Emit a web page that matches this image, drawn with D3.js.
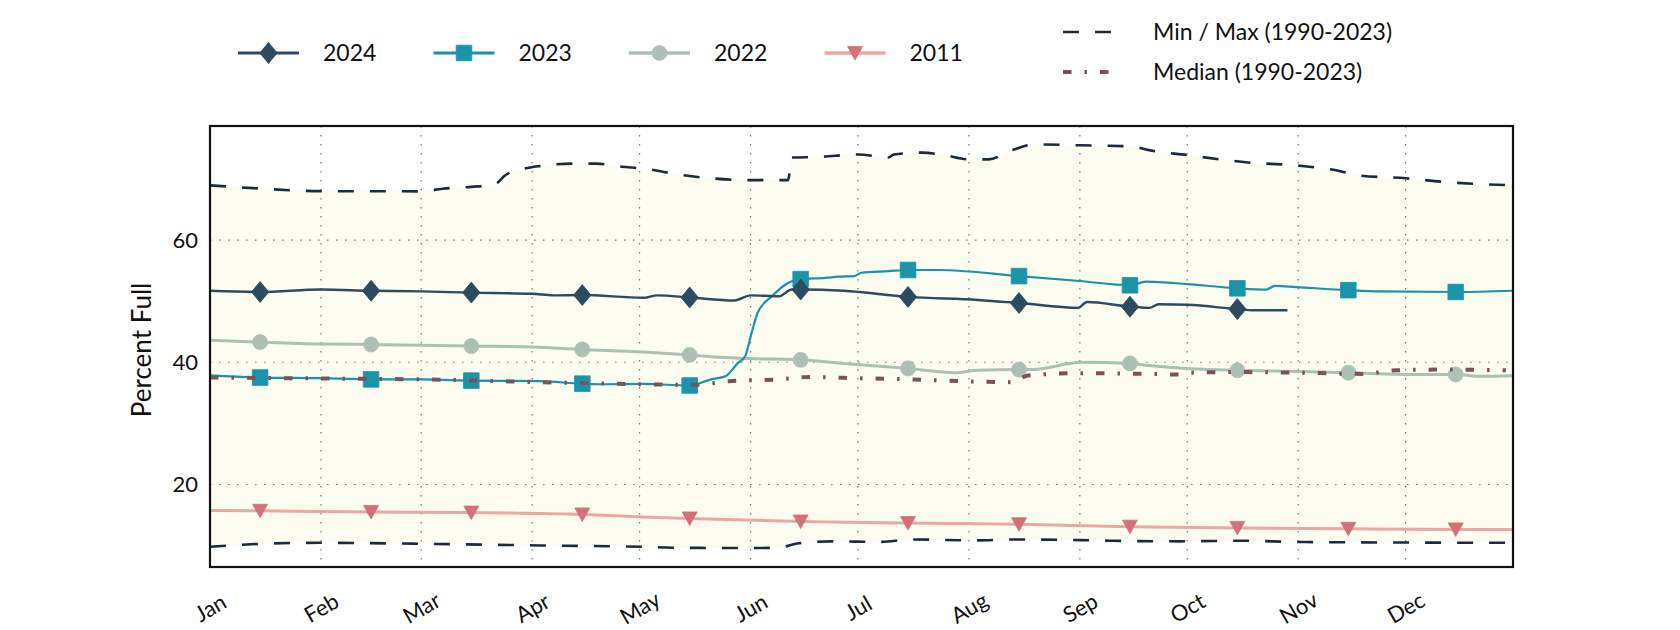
<!DOCTYPE html>
<html>
<head>
<meta charset="utf-8">
<script src="https://cdn.jsdelivr.net/npm/d3@7"></script>
<style>
  html, body { margin: 0; padding: 0; background: #fff; }
  svg { display: block; }
  text { font-family: Lato, "Noto Sans", sans-serif; fill: #111; }
</style>
</head>
<body>
<svg id="chart" width="1680" height="630"></svg>
<script>
// ---------------- DATA (day of year, percent full) ----------------
const monthLabels = ["Jan","Feb","Mar","Apr","May","Jun","Jul","Aug","Sep","Oct","Nov","Dec"];
const monthStarts = [0,31,59,90,120,151,181,212,243,273,304,334];
const markerDays  = [14,45,73,104,134,165,195,226,257,287,318,348];
const yTicks = [20,40,60];

const maxRange = [[0,68.95],[12,68.5],[31,68.0],[59,67.97],[65,68.4],[73,68.7],[79.5,69.1],[82.5,70.6],[88,71.7],[92,72.1],[101,72.5],[108,72.5],[115,72.0],[121,71.7],[131,70.7],[140,70.1],[150,69.8],[161.5,69.8],[162.5,73.5],[170,73.6],[181,74.0],[189.5,73.5],[191,74.0],[199,74.3],[205,73.9],[212,73.2],[217.5,73.2],[224,74.7],[230.5,75.65],[243,75.5],[258,75.3],[261.5,74.8],[273,73.9],[290,72.7],[303.5,72.2],[315.5,71.3],[320.5,70.6],[334,70.1],[345,69.5],[364,68.95]];
const minRange = [[0,9.8],[17,10.35],[31,10.46],[59,10.3],[92,10.03],[121,9.8],[131,9.65],[150,9.6],[159,9.65],[164,10.35],[173.5,10.7],[187,10.6],[196,11.0],[214.5,10.85],[224,11.0],[243.5,10.9],[252,10.8],[271,10.7],[288,10.8],[303.5,10.6],[336,10.5],[364,10.46]];
const median = [[0,37.5],[31,37.35],[59,37.2],[92,36.75],[121,36.4],[135.5,36.3],[145,36.9],[159,37.2],[168,37.6],[177,37.45],[196,37.2],[210,36.9],[224,36.75],[228.5,37.85],[242.5,38.2],[262,38.1],[271,38.0],[274,38.3],[285,38.4],[303.5,38.3],[322,38.1],[331.5,38.7],[345,38.8],[362,38.7]];
const s2024 = [[0,51.7],[14,51.5],[31,51.9],[45,51.7],[59,51.6],[73,51.4],[90,51.2],[96,50.95],[104,51.0],[121,50.55],[125,50.95],[134,50.6],[146.5,50.1],[151,50.95],[159,50.8],[162.5,51.9],[165,51.9],[177,51.7],[195,50.7],[214.5,50.2],[226,49.7],[242.5,48.9],[245,49.85],[257,49.1],[262.5,48.9],[265,49.5],[273,49.4],[287,48.7],[291.5,48.5],[301,48.5]];
const s2023 = [[0,37.85],[14,37.5],[31,37.4],[45,37.2],[59,37.2],[73,37.0],[92,36.9],[104,36.5],[110,36.4],[121,36.45],[134,36.2],[140,37.2],[144,37.7],[147.5,39.9],[149.5,41.0],[151.3,44.8],[153,48.1],[157,50.8],[160.5,52.6],[165,53.6],[172,53.8],[175.5,54.0],[180,54.1],[182,54.65],[189.5,54.9],[195,55.1],[203.5,55.1],[226,54.1],[243,53.3],[257,52.6],[261.5,53.2],[273,52.8],[287,52.1],[295,51.9],[297.5,52.5],[303.5,52.3],[318,51.8],[327,51.6],[348,51.5],[364,51.7]];
const s2022 = [[0,43.6],[14,43.3],[31,43.0],[45,42.9],[59,42.8],[73,42.65],[90,42.5],[104,42.1],[121,41.7],[134,41.2],[140,40.9],[151,40.6],[165,40.4],[177,39.8],[195,39.0],[208,38.3],[214.5,38.7],[226,38.8],[229.5,38.8],[243.5,40.0],[257,39.8],[261.5,39.5],[275.5,38.9],[287,38.7],[303.5,38.5],[318,38.3],[336,38.0],[348,38.0],[355,37.7],[364,37.8]];
const s2011 = [[0,15.75],[14,15.7],[45,15.5],[73,15.4],[104,15.1],[121,14.7],[134,14.45],[165,13.95],[195,13.7],[226,13.5],[243.5,13.25],[257,13.1],[287,12.9],[318,12.75],[348,12.65],[364,12.65]];

const seriesNames = ["2024","2023","2022","2011"];
const seriesData  = [s2024, s2023, s2022, s2011];

// ---------------- STYLES ----------------
const styles = {
  "2024": {line:"#2c4a60", mark:"#2c4a60", width:2.4, shape:"diamond"},
  "2023": {line:"#1a94a8", mark:"#1a94a8", width:2.2, shape:"square"},
  "2022": {line:"#adc0b4", mark:"#adc0b4", width:3,   shape:"circle"},
  "2011": {line:"#e8a8a6", mark:"#d4707a", width:3,   shape:"triangle"}
};
const rangeColor = "#1b2b3f", medianColor = "#7b5259", fillColor = "#fcfcf1";

const svg = d3.select("#chart");
const L = 210, R = 1513, T = 126, B = 567;
const x = d3.scaleLinear().domain([0,364]).range([L,R]);
const y = d3.scaleLinear().domain([6.5,78.66]).range([B,T]);

const line = d3.line().x(d=>x(d[0])).y(d=>y(d[1])).curve(d3.curveMonotoneX);

// fill between min and max
const upper = line(maxRange);
const lower = line(minRange.slice().reverse());
svg.append("path").attr("d", upper + lower.replace(/^M/,"L") + "Z")
  .attr("fill", fillColor).attr("stroke","none");

// grid
const grid = svg.append("g");
grid.selectAll(".vg").data(monthStarts.slice(1)).join("line")
  .attr("x1",d=>x(d)).attr("x2",d=>x(d)).attr("y1",T).attr("y2",B)
  .attr("stroke","#777").attr("stroke-width",1.2).attr("stroke-dasharray","1.5,7.5");
grid.selectAll(".hg").data(yTicks).join("line")
  .attr("x1",L).attr("x2",R).attr("y1",d=>y(d)).attr("y2",d=>y(d))
  .attr("stroke","#777").attr("stroke-width",1.2).attr("stroke-dasharray","1.5,7.5");

function markerPath(shape) {
  if (shape === "diamond") return "M0,-10.5L8.7,0L0,10.5L-8.7,0Z";
  if (shape === "square") return "M-7.8,-7.8H7.8V7.8H-7.8Z";
  if (shape === "circle") return d3.symbol().type(d3.symbolCircle).size(Math.PI*7.5*7.5)();
  return "M-7.5,-6.5L7.5,-6.5L0,7Z";
}

const plot = svg.append("g");
// draw order: 2011, 2022, 2023, 2024
[3,2,1,0].forEach(i => {
  const name = seriesNames[i], st = styles[name], data = seriesData[i];
  plot.append("path").attr("d", line(data)).attr("fill","none")
    .attr("stroke", st.line).attr("stroke-width", st.width).attr("stroke-linejoin","round");
  plot.selectAll(".m"+name).data(data.filter(d => markerDays.includes(d[0]))).join("path")
    .attr("d", markerPath(st.shape))
    .attr("transform", d => `translate(${x(d[0])},${y(d[1])})`)
    .attr("fill", st.mark).attr("stroke", st.mark).attr("stroke-width", 0.8)
    .attr("stroke-linejoin","round");
});

// min / max
[maxRange, minRange].forEach(d => {
  plot.append("path").attr("d", line(d)).attr("fill","none")
    .attr("stroke", rangeColor).attr("stroke-width", 2.6).attr("stroke-dasharray","16,16");
});
// median
plot.append("path").attr("d", line(median)).attr("fill","none")
  .attr("stroke", medianColor).attr("stroke-width", 4).attr("stroke-dasharray","8.5,13,2.5,13");

// frame
svg.append("rect").attr("x",L).attr("y",T).attr("width",R-L).attr("height",B-T)
  .attr("fill","none").attr("stroke","#111").attr("stroke-width",2.2);

// axes
const xAxis = svg.append("g").attr("transform",`translate(0,${B})`)
  .call(d3.axisBottom(x).tickValues(monthStarts).tickFormat((d,i)=>monthLabels[i]).tickSize(0));
xAxis.select(".domain").remove();
xAxis.selectAll("text").attr("y",0).attr("dy","0.35em")
  .attr("transform","translate(0,41) rotate(-30)")
  .attr("text-anchor","middle").style("font-size","22px").style("font-family","Lato, sans-serif").attr("fill","#111");

const yAxis = svg.append("g").attr("transform",`translate(${L},0)`)
  .call(d3.axisLeft(y).tickValues(yTicks).tickSize(0).tickPadding(12));
yAxis.select(".domain").remove();
yAxis.selectAll("text").style("font-size","22px").style("font-family","Lato, sans-serif").attr("fill","#111");

svg.append("text").attr("transform","translate(141,350) rotate(-90)")
  .attr("text-anchor","middle").attr("dominant-baseline","central")
  .style("font-size","26px").text("Percent Full");

// legend row 1
const leg = svg.append("g");
seriesNames.forEach((name,i) => {
  const st = styles[name];
  const gx = 238 + i*195.5, gy = 53;
  const g = leg.append("g").attr("transform",`translate(${gx},${gy})`);
  g.append("line").attr("x1",0).attr("x2",61).attr("y1",0).attr("y2",0)
    .attr("stroke",st.line).attr("stroke-width",st.width+0.6);
  g.append("path").attr("d",markerPath(st.shape)).attr("transform","translate(30.5,0)")
    .attr("fill",st.mark).attr("stroke",st.mark).attr("stroke-width",0.8);
  g.append("text").attr("x",85).attr("y",0).attr("dy","0.35em")
    .style("font-size","23px").text(name);
});
// legend row 2
const leg2 = [
  {label:"Min / Max (1990-2023)", color:rangeColor, width:2.6, dash:"16,16", y:32},
  {label:"Median (1990-2023)", color:medianColor, width:4, dash:"8.5,13,2.5,13", y:72}
];
leg2.forEach(d => {
  leg.append("line").attr("x1",1063).attr("x2",1112).attr("y1",d.y).attr("y2",d.y)
    .attr("stroke",d.color).attr("stroke-width",d.width).attr("stroke-dasharray",d.dash);
  leg.append("text").attr("x",1153).attr("y",d.y).attr("dy","0.35em")
    .style("font-size","23px").text(d.label);
});
</script>
</body>
</html>
